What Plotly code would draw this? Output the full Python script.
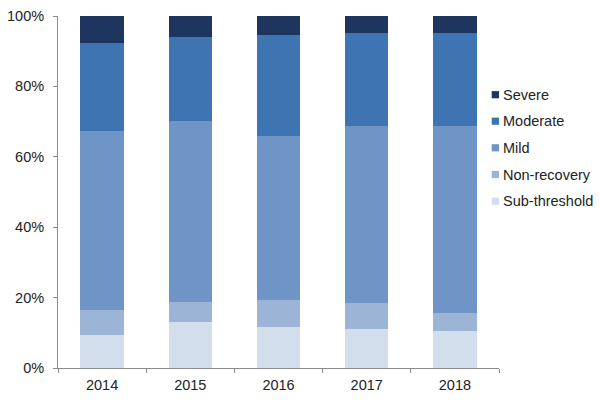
import plotly.graph_objects as go

years = ["2014", "2015", "2016", "2017", "2018"]
sub_threshold = [9.5, 13.1, 11.7, 11.2, 10.5]
non_recovery = [6.9, 5.7, 7.6, 7.2, 5.0]
mild = [50.8, 51.3, 46.5, 50.4, 53.3]
moderate = [25.0, 24.0, 28.7, 26.3, 26.4]
severe = [7.8, 5.9, 5.5, 4.9, 4.8]

series_names = ["Sub-threshold", "Non-recovery", "Mild", "Moderate", "Severe"]
series_values = [sub_threshold, non_recovery, mild, moderate, severe]
series_colors = ["#d3deed", "#9cb4d6", "#6f95c6", "#3f74b3", "#1e355f"]

y_tickvals = [0, 20, 40, 60, 80, 100]
y_ticktext = ["0%", "20%", "40%", "60%", "80%", "100%"]

FONT = "Arial, 'Liberation Sans', sans-serif"
W, H = 600, 406
L, R, T, B = 58, 101, 16, 38
pw, ph = W - L - R, H - T - B

fig = go.Figure()
for name, vals, col in zip(series_names, series_values, series_colors):
    fig.add_trace(go.Bar(x=years, y=vals, name=name, marker=dict(color=col, line=dict(width=0)),
                         showlegend=False))

# custom legend (top item = Severe)
legend_y = [94.7, 121.2, 147.8, 174.5, 201.2]
for i, (name, col) in enumerate(zip(series_names[::-1], series_colors[::-1])):
    cy = legend_y[i]
    fig.add_shape(type="rect", xref="paper", yref="paper",
                  x0=(491.7 - L) / pw, x1=(499 - L) / pw,
                  y0=(H - B - (cy + 3.6)) / ph, y1=(H - B - (cy - 3.6)) / ph,
                  fillcolor=col, line=dict(width=0))
    fig.add_annotation(xref="paper", yref="paper", x=(501 - L) / pw, y=(H - B - cy) / ph,
                       text=name, showarrow=False, xanchor="left", yanchor="middle",
                       font=dict(family=FONT, size=14.5, color="#222222"))

fig.update_layout(
    width=W, height=H,
    margin=dict(l=L, r=R, t=T, b=B, pad=0),
    barmode="stack", bargap=0.51,
    plot_bgcolor="white", paper_bgcolor="white",
    font=dict(family=FONT, size=14.5, color="#222222"),
    xaxis=dict(showline=True, linecolor="#8c8c8c", linewidth=1, ticks="outside",
               tickson="boundaries", ticklen=4, tickcolor="#8c8c8c", showgrid=False,
               automargin=False, ticklabelstandoff=4,
               tickfont=dict(size=14.5, color="#222222")),
    yaxis=dict(range=[0, 100], tickmode="array", tickvals=y_tickvals, ticktext=y_ticktext,
               showline=True, linecolor="#8c8c8c", linewidth=1, ticks="outside",
               ticklen=4, tickcolor="#8c8c8c", showgrid=False, zeroline=False,
               automargin=False, ticklabelstandoff=6,
               tickfont=dict(size=14.5, color="#222222")),
)

fig.write_html("out.html")
